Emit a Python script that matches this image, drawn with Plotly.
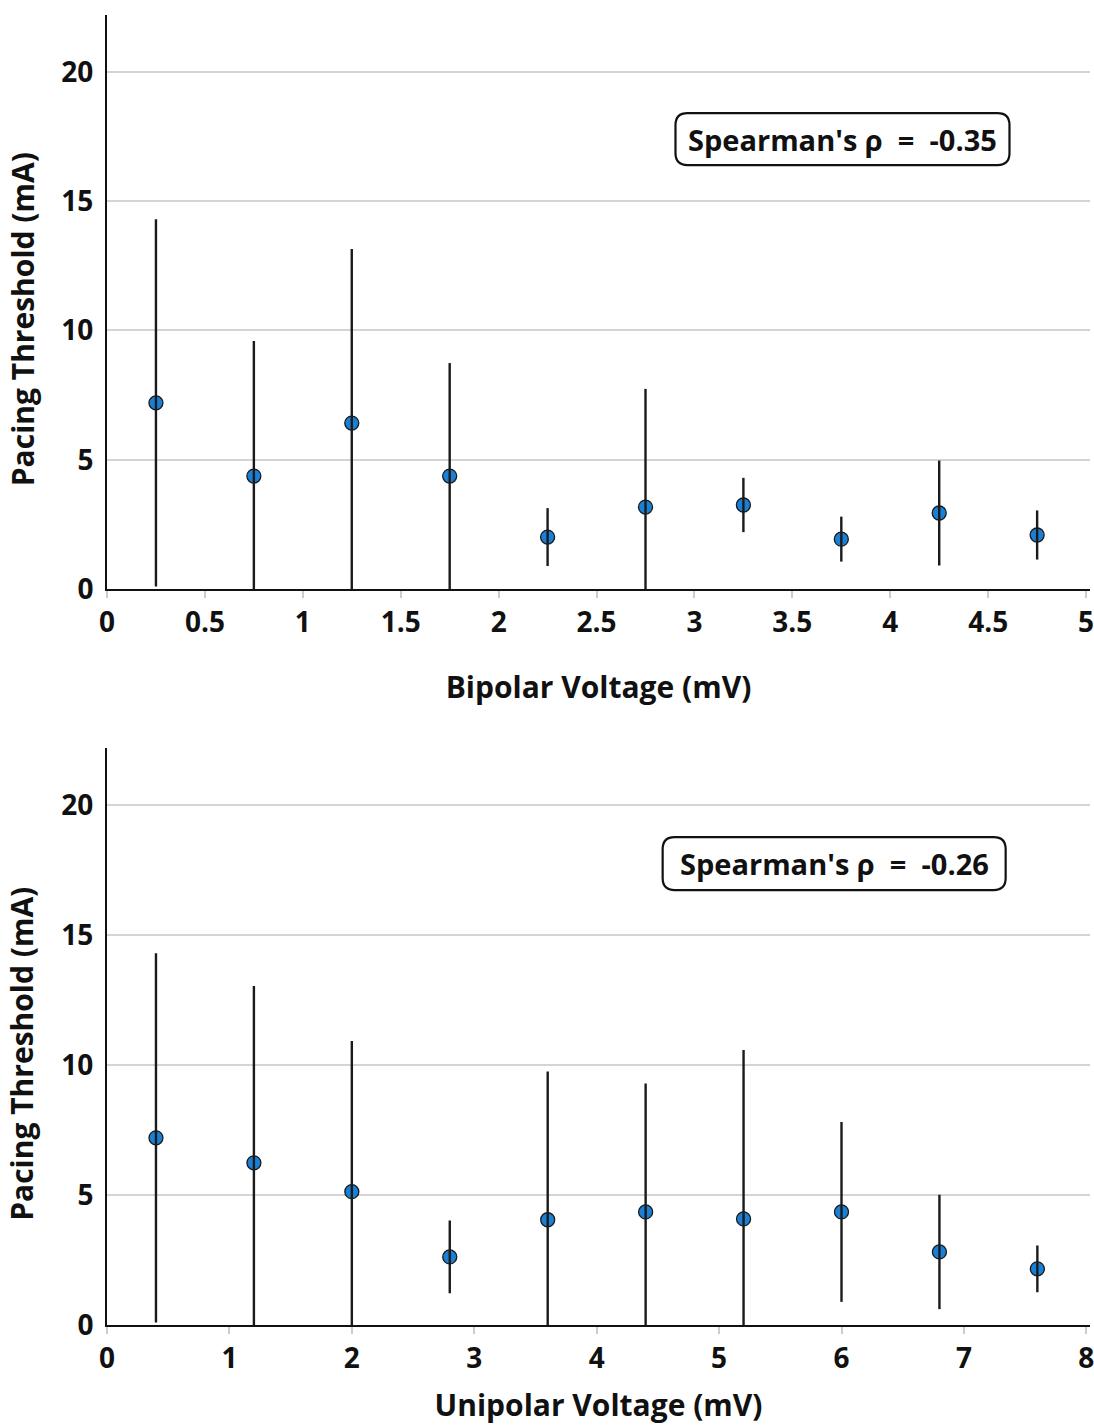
import plotly.graph_objects as go

# ---- data ----
bip_x = [0.25, 0.75, 1.25, 1.75, 2.25, 2.75, 3.25, 3.75, 4.25, 4.75]
bip_mean = [7.2, 4.37, 6.42, 4.37, 2.01, 3.17, 3.25, 1.93, 2.94, 2.09]
bip_sd = [7.1, 5.22, 6.73, 4.37, 1.12, 4.57, 1.05, 0.87, 2.03, 0.95]

uni_x = [0.4, 1.2, 2.0, 2.8, 3.6, 4.4, 5.2, 6.0, 6.8, 7.6]
uni_mean = [7.2, 6.24, 5.13, 2.62, 4.05, 4.35, 4.08, 4.35, 2.81, 2.16]
uni_sd = [7.1, 6.8, 5.8, 1.4, 5.7, 4.94, 6.5, 3.46, 2.2, 0.9]

rho_labels = ["Spearman's \u03c1  =  -0.35", "Spearman's \u03c1  =  -0.26"]
x_titles = ["Bipolar Voltage (mV)", "Unipolar Voltage (mV)"]
y_title = "Pacing Threshold (mA)"
bip_ticks = [0, 0.5, 1, 1.5, 2, 2.5, 3, 3.5, 4, 4.5, 5]
uni_ticks = [0, 1, 2, 3, 4, 5, 6, 7, 8]
y_ticks = [0, 5, 10, 15, 20]

FONT = "Open Sans"
MARKER = "#1a80d6"

fig = go.Figure()


def add_panel(xs, ms, sds, xa, ya):
    ex, ey = [], []
    for x, m, s in zip(xs, ms, sds):
        ex += [x, x, None]
        ey += [m - s, m + s, None]
    fig.add_trace(go.Scatter(
        x=xs, y=ms, mode="markers", xaxis=xa, yaxis=ya, showlegend=False,
        marker=dict(size=14, color=MARKER, line=dict(color="#1a1a1a", width=1.3)),
    ))
    fig.add_trace(go.Scatter(
        x=ex, y=ey, mode="lines", xaxis=xa, yaxis=ya, showlegend=False,
        line=dict(color="#1a1a1a", width=2.4),
    ))


add_panel(bip_x, bip_mean, bip_sd, "x", "y")
add_panel(uni_x, uni_mean, uni_sd, "x2", "y2")

tickfont = dict(family=FONT, size=28, color="#111", weight="bold")
titlefont = dict(family=FONT, size=30, color="#111", weight="bold")

common_x = dict(
    showline=True, linecolor="#111", linewidth=2, showgrid=False, zeroline=False,
    ticks="outside", ticklen=7, tickwidth=1.5, tickcolor="#cccccc",
    tickfont=tickfont, automargin=False, ticklabelstandoff=0,
    ticklabeloverflow="allow",
)
common_y = dict(
    showline=True, linecolor="#111", linewidth=2, showgrid=True,
    gridcolor="#d4d4d4", gridwidth=1.5, zeroline=False, ticks="",
    range=[0, 22.2], tickvals=y_ticks, tickfont=tickfont, automargin=False,
    ticklabelstandoff=6, ticklabeloverflow="allow",
)

fig.update_layout(
    width=1094, height=1425,
    margin=dict(l=107, r=4, t=15, b=100),
    plot_bgcolor="white", paper_bgcolor="white",
    xaxis=dict(common_x, domain=[0, 1], anchor="y", range=[0, 5.02],
               tickvals=bip_ticks,
               title=dict(text=x_titles[0], font=titlefont, standoff=38)),
    yaxis=dict(common_y, domain=[0.5618, 1], anchor="x"),
    xaxis2=dict(common_x, domain=[0, 1], anchor="y2", range=[0, 8.03],
                tickvals=uni_ticks,
                title=dict(text=x_titles[1], font=titlefont, standoff=22)),
    yaxis2=dict(common_y, domain=[0, 0.4405], anchor="x2"),
)

# y-axis titles (placed slightly below axis centre as in the reference)
for yref in ["y domain", "y2 domain"]:
    fig.add_annotation(
        x=0, xref="paper", xanchor="center", xshift=-85,
        y=0.47, yref=yref, yanchor="middle",
        text=y_title, textangle=-90, showarrow=False, font=titlefont,
    )

# correlation labels with rounded boxes
boxes = [
    dict(x=3.756, y=17.4, xref="x", yref="y", w=334, h=52, text=rho_labels[0]),
    dict(x=5.94, y=17.75, xref="x2", yref="y2", w=343, h=53, text=rho_labels[1]),
]
for b in boxes:
    fig.add_annotation(
        x=b["x"], y=b["y"], xref=b["xref"], yref=b["yref"], text=b["text"],
        showarrow=False, font=dict(family=FONT, size=29, color="#111", weight="bold"),
        xanchor="center", yanchor="middle",
    )
    w, h, r = b["w"] / 2, b["h"] / 2, 12
    path = (f"M{-w + r},{-h} L{w - r},{-h} Q{w},{-h} {w},{-h + r} "
            f"L{w},{h - r} Q{w},{h} {w - r},{h} L{-w + r},{h} "
            f"Q{-w},{h} {-w},{h - r} L{-w},{-h + r} Q{-w},{-h} {-w + r},{-h} Z")
    fig.add_shape(
        type="path", path=path, xref=b["xref"], yref=b["yref"],
        xsizemode="pixel", ysizemode="pixel", xanchor=b["x"], yanchor=b["y"],
        line=dict(color="#111", width=2.2), fillcolor="rgba(0,0,0,0)",
    )

fig.write_html(
    "out.html",
    config={"displayModeBar": False},
    post_script="document.body.style.margin='0';document.body.style.padding='0';"
                "document.body.style.overflow='hidden';",
)
